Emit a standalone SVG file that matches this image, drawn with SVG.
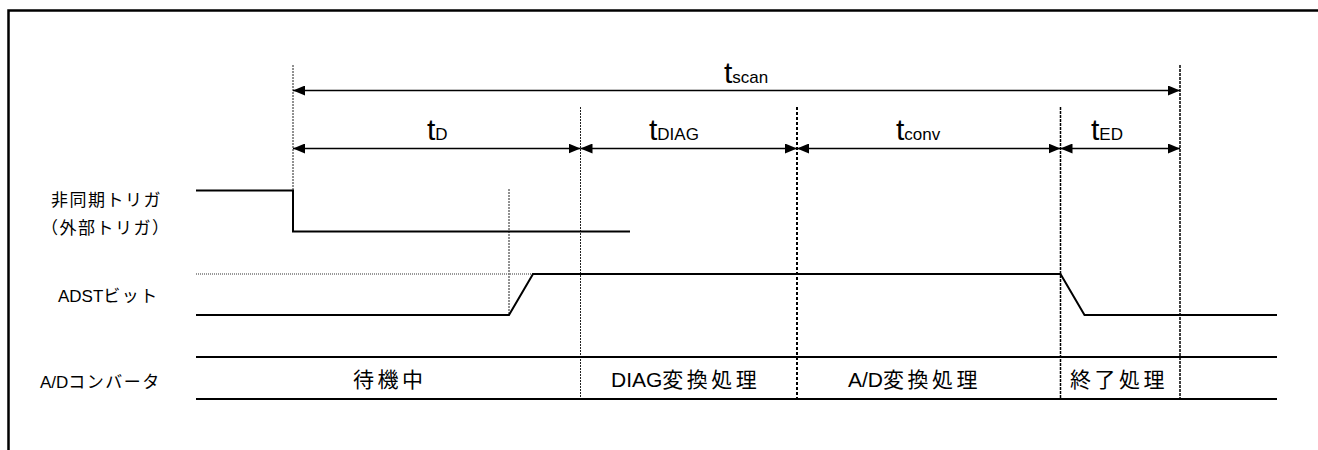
<svg xmlns="http://www.w3.org/2000/svg" width="1318" height="450" viewBox="0 0 1318 450">
<style>
.frame{fill:none;stroke:#000;stroke-width:2.5}
.sig{fill:none;stroke:#000;stroke-width:2}
.ghost{fill:none;stroke:#777;stroke-width:1.5;stroke-dasharray:1 1}
.dthin{fill:none;stroke:#222;stroke-width:1;stroke-dasharray:2 1}
.dbold{fill:none;stroke:#000;stroke-width:2;stroke-dasharray:3 2}
.dmid{fill:none;stroke:#000;stroke-width:1.5;stroke-dasharray:3 1}
.dim{fill:none;stroke:#000;stroke-width:1.3;marker-start:url(#ah);marker-end:url(#ah)}
.lbl{font-family:"Liberation Sans","Noto Sans CJK JP",sans-serif;font-size:17px;fill:#000}
.st{font-family:"Liberation Sans","Noto Sans CJK JP",sans-serif;font-size:21px;fill:#000}
.sp1{letter-spacing:1.5px}
.sp3{letter-spacing:3.5px}
.tt{font-family:"Liberation Sans",sans-serif;font-size:30px;fill:#000}
.sub{font-family:"Liberation Sans",sans-serif;font-size:17px;fill:#000}
</style>
<defs>
<marker id="ah" viewBox="0 0 12 10" refX="12" refY="5" markerWidth="12" markerHeight="10" markerUnits="userSpaceOnUse" orient="auto-start-reverse">
<path d="M0,0 L12,5 L0,10 z" fill="#000"/>
</marker>
</defs>
<rect width="1318" height="450" fill="#fff"/>
<path class="frame" d="M8.5,452 V10.5 H1318"/>

<g id="guides">
<line class="dthin" x1="293" y1="65" x2="293" y2="190"/>
<line class="dthin" x1="580.5" y1="107" x2="580.5" y2="398"/>
<line class="dbold" x1="797" y1="107" x2="797" y2="398"/>
<line class="dmid" x1="1060.5" y1="107" x2="1060.5" y2="398"/>
<line class="dmid" x1="1180" y1="65" x2="1180" y2="398"/>
<line class="dthin" x1="509" y1="189" x2="509" y2="315"/>
</g>

<g id="connectors">
<line class="dim" x1="293" y1="90.5" x2="1180" y2="90.5"/>
<line class="dim" x1="293" y1="148.5" x2="580.5" y2="148.5"/>
<line class="dim" x1="580.5" y1="148.5" x2="797" y2="148.5"/>
<line class="dim" x1="797" y1="148.5" x2="1060.5" y2="148.5"/>
<line class="dim" x1="1060.5" y1="148.5" x2="1180" y2="148.5"/>
</g>

<g id="dim-labels">
<text x="724" y="83"><tspan class="tt">t</tspan><tspan class="sub">scan</tspan></text>
<text x="427" y="140"><tspan class="tt">t</tspan><tspan class="sub">D</tspan></text>
<text x="649" y="140"><tspan class="tt">t</tspan><tspan class="sub">DIAG</tspan></text>
<text x="896" y="140"><tspan class="tt">t</tspan><tspan class="sub">conv</tspan></text>
<text x="1091" y="140"><tspan class="tt">t</tspan><tspan class="sub">ED</tspan></text>
</g>

<g id="trigger">
<text class="lbl sp1" x="51" y="206">非同期トリガ</text>
<text class="lbl sp1" x="41" y="234">（外部トリガ）</text>
<path class="sig" d="M196,190.5 H293 V231.5 H630"/>
</g>

<g id="adst">
<text class="lbl" x="58" y="302">ADST<tspan class="sp1">ビット</tspan></text>
<line class="ghost" x1="196" y1="274" x2="533" y2="274"/>
<path class="sig" d="M196,315 H509 L533,274 H1060.5 L1084.5,315 H1277"/>
</g>

<g id="adc">
<text class="lbl" x="40" y="388">A/D<tspan class="sp1">コンバータ</tspan></text>
<line class="sig" x1="196" y1="357" x2="1277" y2="357"/>
<line class="sig" x1="196" y1="399" x2="1277" y2="399"/>
<text class="st sp3" x="353" y="387">待機中</text>
<text class="st" x="611" y="387">DIAG<tspan class="sp3">変換処理</tspan></text>
<text class="st" x="848" y="387">A/D<tspan class="sp3">変換処理</tspan></text>
<text class="st sp3" x="1070" y="387">終了処理</text>
</g>
</svg>
